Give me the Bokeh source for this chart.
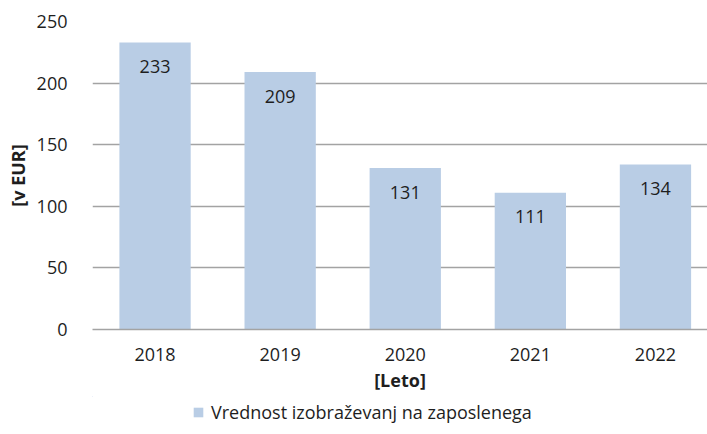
from bokeh.plotting import figure
from bokeh.layouts import column
from bokeh.models import ColumnDataSource, FixedTicker, Range1d, Legend, LegendItem
from bokeh.core.properties import value
from bokeh.embed import file_html
from bokeh.resources import INLINE

years = ["2018", "2019", "2020", "2021", "2022"]
values = [233, 209, 131, 111, 134]
series_name = "Vrednost izobraževanj na zaposlenega"
y_ticks = [0, 50, 100, 150, 200, 250]

FONT = "Open Sans"
FS = "18px"
TXT = "#1e1e1e"
BAR = "#B9CDE5"
GRID = "#A3A3A3"

xs = list(range(len(years)))
src = ColumnDataSource(dict(x=xs, top=values, label=[str(v) for v in values]))

p = figure(width=707, height=396, output_backend="svg", toolbar_location=None,
           x_range=Range1d(-0.5, 4.416), y_range=Range1d(0, 250),
           min_border_left=92, min_border_right=0, min_border_top=21, min_border_bottom=67)
p.outline_line_color = None

r = p.vbar(x="x", top="top", width=0.57, source=src, fill_color=BAR, line_color=None)
p.text(x="x", y="top", text="label", source=src, text_align="center", text_baseline="middle",
       y_offset=24, text_font=value(FONT), text_font_size=FS, text_color=TXT)

p.xgrid.visible = False
p.ygrid.grid_line_color = GRID
p.ygrid.grid_line_width = 1.5

p.yaxis.ticker = FixedTicker(ticks=y_ticks)
p.yaxis.axis_line_color = None
p.yaxis.major_tick_line_color = None
p.yaxis.minor_tick_line_color = None
p.yaxis.major_label_text_font = FONT
p.yaxis.major_label_text_font_size = FS
p.yaxis.major_label_text_color = TXT
p.yaxis.major_label_standoff = 19
p.yaxis.axis_label = "[v EUR]"
p.yaxis.axis_label_text_font = FONT
p.yaxis.axis_label_text_font_size = FS
p.yaxis.axis_label_text_font_style = "bold"
p.yaxis.axis_label_text_color = TXT
p.yaxis.axis_label_standoff = 4

p.xaxis.ticker = FixedTicker(ticks=xs)
p.xaxis.major_label_overrides = {i: y for i, y in zip(xs, years)}
p.xaxis.axis_line_color = GRID
p.xaxis.axis_line_width = 1.5
p.xaxis.major_tick_line_color = None
p.xaxis.minor_tick_line_color = None
p.xaxis.major_label_text_font = FONT
p.xaxis.major_label_text_font_size = FS
p.xaxis.major_label_text_color = TXT
p.xaxis.major_label_standoff = 12
p.xaxis.axis_label = "[Leto]"
p.xaxis.axis_label_text_font = FONT
p.xaxis.axis_label_text_font_size = FS
p.xaxis.axis_label_text_font_style = "bold"
p.xaxis.axis_label_text_color = TXT
p.xaxis.axis_label_standoff = 4

# legend strip below the chart (bars drawn out of view so only the legend shows)
p2 = figure(width=707, height=34, output_backend="svg", toolbar_location=None,
            x_range=Range1d(20, 30), y_range=Range1d(-20, -10), min_border=0)
p2.axis.visible = False
p2.grid.visible = False
p2.outline_line_color = None
r2 = p2.vbar(x="x", top="top", width=0.57, source=src, fill_color=BAR, line_color=None)
legend = Legend(items=[LegendItem(label=series_name, renderers=[r2])], orientation="horizontal",
                location=(100, 6), border_line_color=None, background_fill_alpha=0,
                glyph_width=12, glyph_height=12, margin=0, padding=2, label_standoff=7,
                label_text_font=FONT, label_text_font_size=FS, label_text_color=TXT)
p2.add_layout(legend, "center")

html = file_html(column(p, p2, spacing=0), INLINE)
html = html.replace("<head>", "<head><style>html,body{margin:0;padding:0;overflow:hidden;}</style>", 1)
open("out.html", "w").write(html)
